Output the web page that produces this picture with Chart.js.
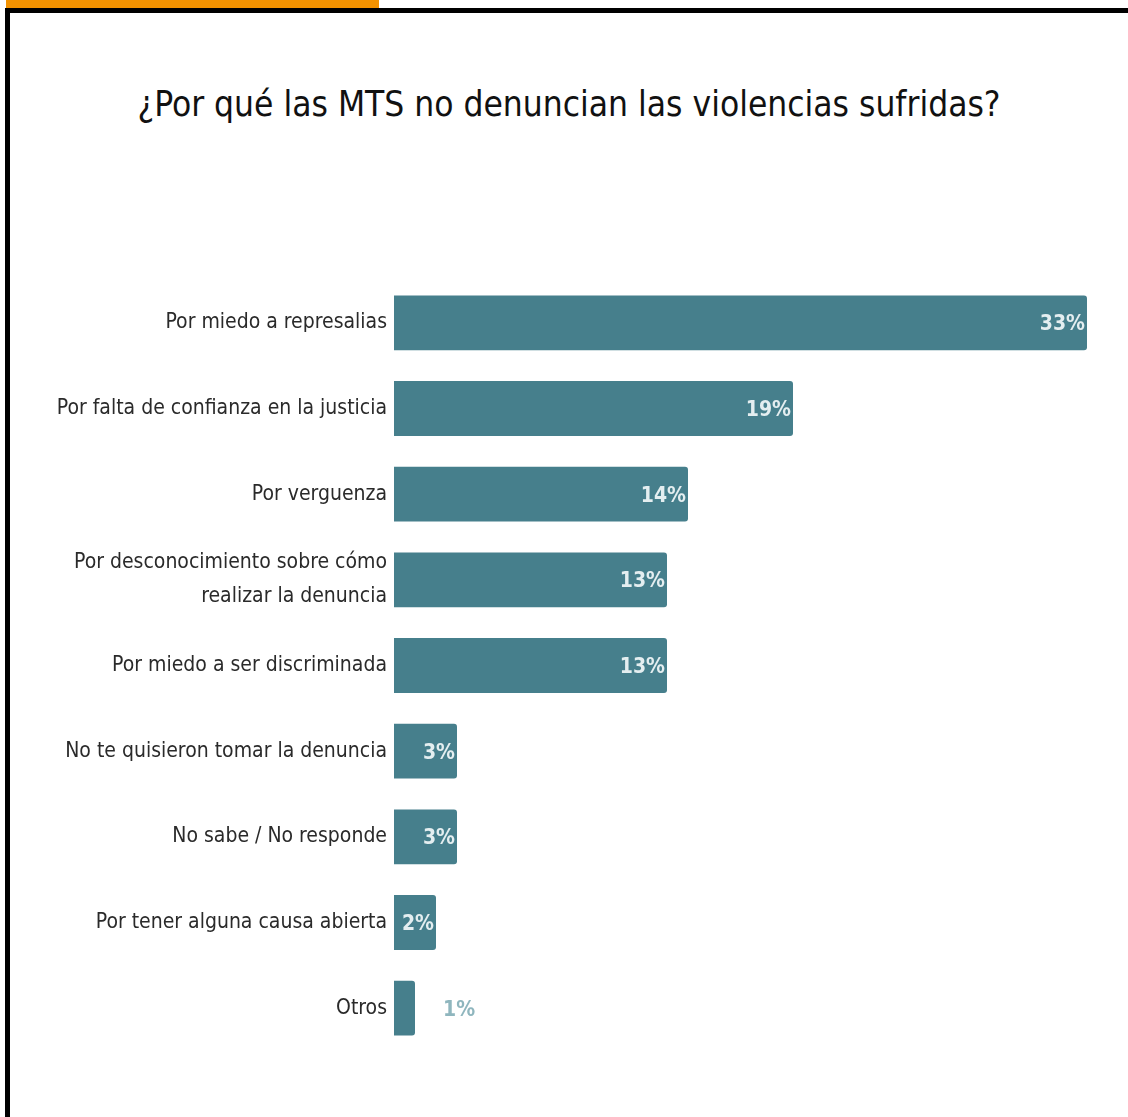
<!DOCTYPE html>
<html>
<head>
<meta charset="utf-8">
<script src="https://cdn.jsdelivr.net/npm/chart.js@4/dist/chart.umd.min.js"></script>
<style>
html,body{margin:0;padding:0;background:#fff;}
body{width:1128px;height:1117px;position:relative;overflow:hidden;}
#tab{position:absolute;left:6px;top:0;width:373px;height:9px;background:#f39200;}
#frame{position:absolute;left:5px;top:8px;width:1140px;height:1130px;border-top:5px solid #000;border-left:5px solid #000;box-sizing:border-box;}
#title{position:absolute;left:10px;top:79px;width:1118px;text-align:center;font-family:"Liberation Sans Narrow","DejaVu Sans Condensed","Roboto",sans-serif;font-size:35px;color:#111;line-height:50px;}
#wrap{position:absolute;left:10px;top:240px;width:1118px;height:850px;}
</style>
</head>
<body>
<div id="tab"></div>
<div id="frame"></div>
<div id="title">¿Por qué las MTS no denuncian las violencias sufridas?</div>
<div id="wrap"><canvas id="c"></canvas></div>
<script>
const CATEGORIES=[
  "Por miedo a represalias",
  "Por falta de confianza en la justicia",
  "Por verguenza",
  ["Por desconocimiento sobre cómo","realizar la denuncia"],
  "Por miedo a ser discriminada",
  "No te quisieron tomar la denuncia",
  "No sabe / No responde",
  "Por tener alguna causa abierta",
  "Otros"
];
const VALUES=[33,19,14,13,13,3,3,2,1];
const BAR_COLOR="#467f8c";
const FONT="'Liberation Sans Narrow','DejaVu Sans Condensed',Roboto,sans-serif";

// value labels: inside the bar end, or just outside when the bar is too short
const valueLabels={
  id:"valueLabels",
  afterDatasetsDraw(chart){
    const ctx=chart.ctx;
    const meta=chart.getDatasetMeta(0);
    ctx.save();
    ctx.font="bold 21px "+FONT;
    ctx.textBaseline="middle";
    meta.data.forEach((bar,i)=>{
      const txt=VALUES[i]+"%";
      const w=ctx.measureText(txt).width;
      const inside=(bar.x-bar.base)>=w+2;
      if(inside){ctx.fillStyle="#e4eef0";ctx.textAlign="right";ctx.fillText(txt,bar.x-2,bar.y+2);}
      else{ctx.fillStyle="#8fb6be";ctx.textAlign="left";ctx.fillText(txt,bar.x+28,bar.y+2);}
    });
    ctx.restore();
  }
};

new Chart(document.getElementById("c"),{
  type:"bar",
  data:{labels:CATEGORIES,datasets:[{data:VALUES,backgroundColor:BAR_COLOR,borderRadius:3,borderSkipped:"start",barPercentage:0.8,categoryPercentage:0.8}]},
  options:{
    indexAxis:"y",responsive:true,maintainAspectRatio:false,animation:false,
    layout:{padding:{top:40,bottom:39,right:41,left:0}},
    plugins:{legend:{display:false},tooltip:{enabled:false},title:{display:false}},
    scales:{
      x:{display:false,min:0,max:33},
      y:{
        grid:{display:false,drawTicks:false},border:{display:false},
        afterFit(s){s.width=384;},
        ticks:{padding:7,color:"#2a2a2a",font:{family:FONT,size:21,lineHeight:1.6},autoSkip:false}
      }
    }
  },
  plugins:[valueLabels]
});
</script>
</body>
</html>
